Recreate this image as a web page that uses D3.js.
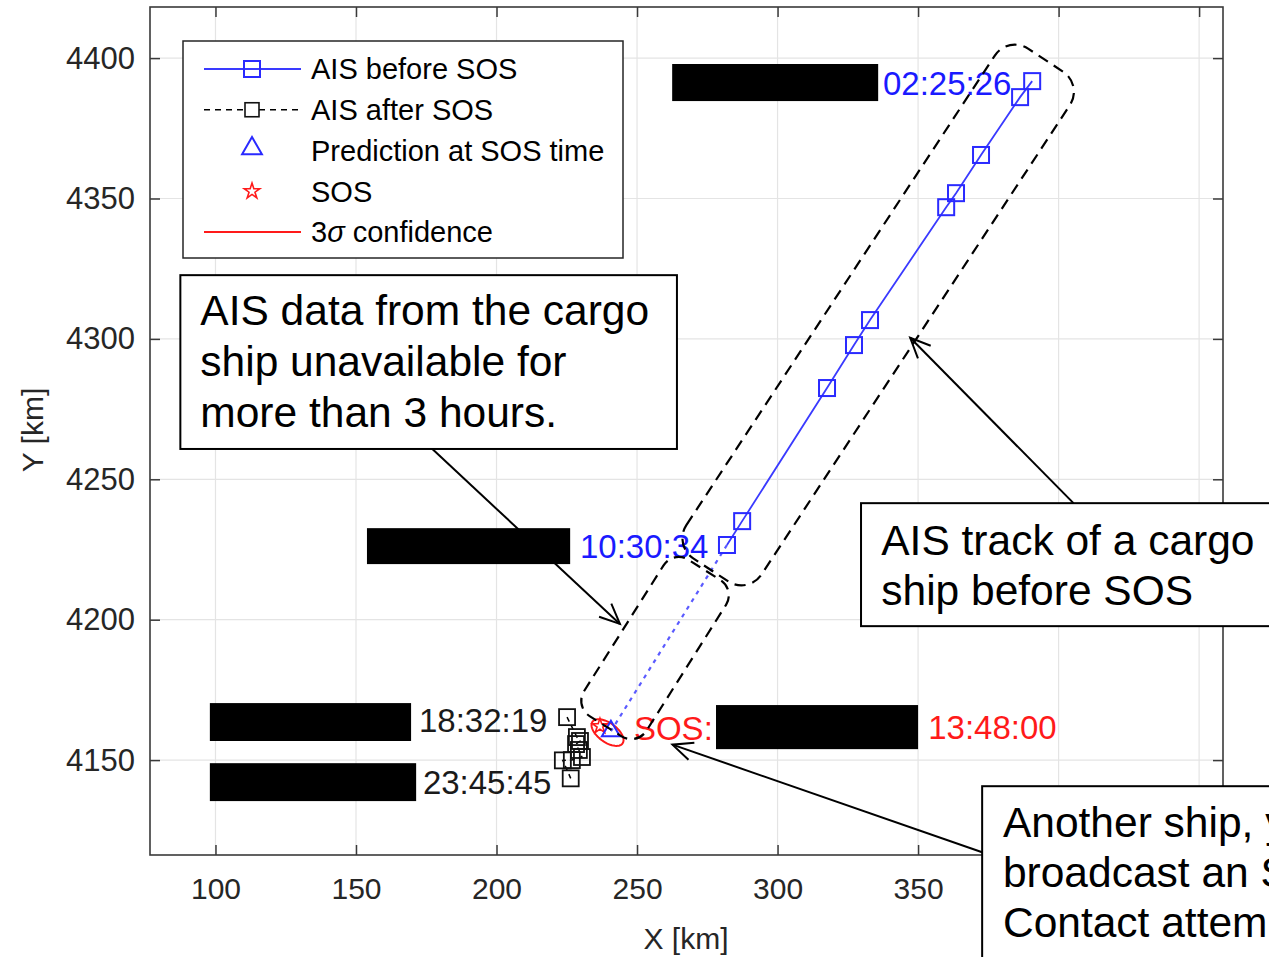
<!DOCTYPE html>
<html>
<head>
<meta charset="utf-8">
<script src="https://cdn.jsdelivr.net/npm/d3@7"></script>
<style>
  body { margin: 0; background: #fff; }
  svg { display: block; font-family: "Liberation Sans", Arial, Helvetica, sans-serif; }
</style>
</head>
<body>
<div id="viz"></div>
<script>
// ---- data (km) ----
var xTicks = [100, 150, 200, 250, 300, 350, 400, 450];
var yTicks = [4150, 4200, 4250, 4300, 4350, 4400];

// AIS before SOS (newest first)
var beforeX = [390.6, 386.3, 372.4, 363.5, 360.0, 332.9, 327.2, 317.6, 287.4, 282.0];
var beforeY = [4391.8, 4386.1, 4365.5, 4351.9, 4346.9, 4306.7, 4297.8, 4282.5, 4235.1, 4226.6];

// AIS after SOS
var afterX = [225.1, 228.6, 229.7, 228.3, 229.3, 230.4, 226.8, 223.6, 226.4];
var afterY = [4165.3, 4158.2, 4156.8, 4155.7, 4153.6, 4151.1, 4150.0, 4149.9, 4143.5];

// prediction at SOS time, SOS position, 3-sigma ellipse
var predX = [240.7], predY = [4160.3];
var sosX = [236.8], sosY = [4162.1];
var ellCenter = [239.5, 4159.8], ellAxes = [6.6, 3.4], ellAngle = -36;

// time stamps
var stampText = ["02:25:26", "10:30:34", "18:32:19", "23:45:45", "SOS:", "13:48:00"];
var stampKind = ["before", "before", "after", "after", "sos", "sos"];
var stampX = [337.5, 229.7, 172.4, 173.8, 248.9, 353.6];
var stampY = [4391.1, 4226.2, 4164.2, 4142.2, 4161.4, 4161.8];

// masked boxes [x0, x1, y0, y1]
var maskX0 = [262.5, 153.9, 98.0, 98.0, 278.1];
var maskX1 = [335.8, 226.2, 169.6, 171.4, 350.0];
var maskY0 = [4384.7, 4219.8, 4156.8, 4135.4, 4153.9];
var maskY1 = [4397.9, 4232.6, 4170.3, 4148.9, 4169.6];

var legendLabels = ["AIS before SOS", "AIS after SOS", "Prediction at SOS time", "SOS", "3σ confidence"];

// ---- layout ----
var W = 1269, H = 957;
var x = d3.scaleLinear().domain([76.7, 458.5]).range([150, 1223]);
var y = d3.scaleLinear().domain([4116.2, 4418.2]).range([855, 7]);
var kmPx = x(1) - x(0);

var colors = { before: "#1a1aff", after: "#1a1a1a", sos: "#ff1a1a" };
var axisColor = "#3a3a3a", tickText = "#262626";

// callouts (anchored in km)
var boxes = [
  { x0: 87.5, x1: 264.2, y0: 4322.7, y1: 4260.8, tx: 94.6, base: [4304.9, 4286.7, 4268.6],
    lines: [["AIS data from the cargo"], ["ship unavailable for"], ["more than 3 hours."]] },
  { x0: 329.7, x1: 500, y0: 4241.5, y1: 4197.7, tx: 336.9, base: [4223.0, 4205.2],
    lines: [["AIS track of a cargo"], ["ship before SOS"]] },
  { x0: 372.8, x1: 500, y0: 4140.7, y1: 4060, tx: 380.2, base: [4122.6, 4104.8, 4087.0],
    lines: [["Another ship, ", "yet unknown,"], ["broadcast an SOS."], ["Contact attempts failed."]] }
];
var arrows = [
  { from: [176.7, 4261.2], to: [243.9, 4198.5] },
  { from: [405.3, 4241.5], to: [347.2, 4300.4] },
  { from: [372.8, 4117.2], to: [262.6, 4155.5] }
];

var svg = d3.select("#viz").append("svg").attr("width", W).attr("height", H);

// grid
svg.append("g").selectAll("line").data(xTicks).enter().append("line")
  .attr("x1", d => x(d)).attr("x2", d => x(d)).attr("y1", y.range()[1]).attr("y2", y.range()[0])
  .attr("stroke", "#e4e4e4").attr("stroke-width", 1.2);
svg.append("g").selectAll("line").data(yTicks).enter().append("line")
  .attr("y1", d => y(d)).attr("y2", d => y(d)).attr("x1", x.range()[0]).attr("x2", x.range()[1])
  .attr("stroke", "#e4e4e4").attr("stroke-width", 1.2);

// axes with inward ticks
function styleAxis(g) {
  g.select(".domain").remove();
  g.selectAll(".tick line").attr("stroke", axisColor).attr("stroke-width", 1.5);
  g.selectAll(".tick text").attr("fill", tickText).style("font-size", "30px")
    .style("font-family", '"Liberation Sans", Arial, sans-serif');
}
// labels that sit under the lower-right callout are not shown
var hiddenFrom = boxes[2].x0;
svg.append("g").attr("transform", "translate(0," + y.range()[0] + ")")
  .call(d3.axisBottom(x).tickValues(xTicks)
    .tickFormat(d => d + 20 < hiddenFrom ? d3.format("d")(d) : "")
    .tickSize(-10).tickPadding(23)).call(styleAxis);
svg.append("g").attr("transform", "translate(" + x.range()[0] + ",0)")
  .call(d3.axisLeft(y).tickValues(yTicks).tickFormat(d3.format("d")).tickSize(-10).tickPadding(15))
  .call(styleAxis)
  .call(g => g.selectAll(".tick text").style("font-size", "31px"));
svg.append("g").attr("transform", "translate(0," + y.range()[1] + ")")
  .call(d3.axisTop(x).tickValues(xTicks).tickSize(-10).tickFormat("")).call(styleAxis);
svg.append("g").attr("transform", "translate(" + x.range()[1] + ",0)")
  .call(d3.axisRight(y).tickValues(yTicks).tickSize(-10).tickFormat("")).call(styleAxis);

svg.append("rect")
  .attr("x", x.range()[0]).attr("y", y.range()[1])
  .attr("width", x.range()[1] - x.range()[0]).attr("height", y.range()[0] - y.range()[1])
  .attr("fill", "none").attr("stroke", axisColor).attr("stroke-width", 1.6);

svg.append("text").attr("x", 686).attr("y", 949)
  .attr("text-anchor", "middle").attr("fill", tickText).style("font-size", "30px").text("X [km]");
svg.append("text").attr("transform", "translate(43,430) rotate(-90)")
  .attr("text-anchor", "middle").attr("fill", tickText).style("font-size", "30px").text("Y [km]");

// ---- plotted data ----
var plot = svg.append("g");
var before = beforeX.map((v, i) => [v, beforeY[i]]);
var after = afterX.map((v, i) => [v, afterY[i]]);
var line = d3.line().x(d => x(d[0])).y(d => y(d[1]));

// masks
plot.selectAll(".mask").data(maskX0).enter().append("rect").attr("class", "mask")
  .attr("x", (d, i) => x(maskX0[i])).attr("y", (d, i) => y(maskY1[i]))
  .attr("width", (d, i) => x(maskX1[i]) - x(maskX0[i]))
  .attr("height", (d, i) => y(maskY0[i]) - y(maskY1[i]))
  .attr("fill", "#000");

// prediction path (dotted)
plot.append("path").datum([before[before.length - 1], [predX[0], predY[0]]])
  .attr("d", line).attr("fill", "none").attr("stroke", "#5a5aff")
  .attr("stroke-width", 2.2).attr("stroke-dasharray", "4,5");

plot.append("path").datum(before).attr("d", line).attr("fill", "none")
  .attr("stroke", "#3a3aff").attr("stroke-width", 1.8);
plot.selectAll(".bsq").data(before).enter().append("rect").attr("class", "bsq")
  .attr("x", d => x(d[0]) - 8).attr("y", d => y(d[1]) - 8).attr("width", 16).attr("height", 16)
  .attr("fill", "none").attr("stroke", "#2a2aff").attr("stroke-width", 2);

plot.append("path").datum(after).attr("d", line).attr("fill", "none")
  .attr("stroke", "#000").attr("stroke-width", 1.5).attr("stroke-dasharray", "5,4");
plot.selectAll(".asq").data(after).enter().append("rect").attr("class", "asq")
  .attr("x", d => x(d[0]) - 8).attr("y", d => y(d[1]) - 8).attr("width", 16).attr("height", 16)
  .attr("fill", "none").attr("stroke", "#111").attr("stroke-width", 1.8);

// 3-sigma ellipse
var th = ellAngle * Math.PI / 180;
var ell = d3.range(0, 361, 6).map(function(t) {
  var a = t * Math.PI / 180;
  var dx = ellAxes[0] * Math.cos(a), dy = ellAxes[1] * Math.sin(a);
  return [ellCenter[0] + dx * Math.cos(th) - dy * Math.sin(th),
          ellCenter[1] + dx * Math.sin(th) + dy * Math.cos(th)];
});
plot.append("path").datum(ell).attr("d", line).attr("fill", "none")
  .attr("stroke", "#ff1a1a").attr("stroke-width", 2);

plot.selectAll(".sos").data(sosX).enter().append("path")
  .attr("transform", (d, i) => "translate(" + x(d) + "," + y(sosY[i]) + ")")
  .attr("d", d3.symbol().type(d3.symbolStar).size(70)())
  .attr("fill", "none").attr("stroke", "#ff1a1a").attr("stroke-width", 1.6);

plot.selectAll(".pred").data(predX).enter().append("path")
  .attr("transform", (d, i) => "translate(" + x(d) + "," + y(predY[i]) + ")")
  .attr("d", d3.symbol().type(d3.symbolTriangle).size(140)())
  .attr("fill", "none").attr("stroke", "#2a2aff").attr("stroke-width", 2);

// time stamps
plot.selectAll(".stamp").data(stampText).enter().append("text")
  .attr("x", (d, i) => x(stampX[i])).attr("y", (d, i) => y(stampY[i]))
  .attr("dy", "0.36em").attr("fill", (d, i) => colors[stampKind[i]])
  .style("font-size", "33px").text(d => d);

// ---- dashed regions ----
var regions = [
  { cx: 335.8, cy: 4308.5, len: 217, wid: 32, ang: 56.7, r: 24 },
  { cx: 256.4, cy: 4189.9, len: 65.8, wid: 26.3, ang: 57.7, r: 18 }
];
svg.selectAll(".region").data(regions).enter().append("rect").attr("class", "region")
  .attr("transform", d => "translate(" + x(d.cx) + "," + y(d.cy) + ") rotate(" + (-d.ang) + ")")
  .attr("x", d => -d.len * kmPx / 2).attr("y", d => -d.wid * kmPx / 2)
  .attr("width", d => d.len * kmPx).attr("height", d => d.wid * kmPx)
  .attr("rx", d => d.r).attr("ry", d => d.r)
  .attr("fill", "none").attr("stroke", "#000").attr("stroke-width", 2.2)
  .attr("stroke-dasharray", "11,7");

// ---- legend ----
var lg = svg.append("g");
lg.append("rect").attr("x", 183).attr("y", 41).attr("width", 440).attr("height", 217)
  .attr("fill", "#fff").attr("stroke", "#262626").attr("stroke-width", 1.5);
var rowY = d3.scalePoint().domain(legendLabels).range([69, 232]);
lg.selectAll(".lt").data(legendLabels).enter().append("text")
  .attr("x", 311).attr("y", d => rowY(d)).attr("dy", "0.36em").attr("fill", "#000")
  .style("font-size", "29px")
  .each(function(d) {
    var t = d3.select(this);
    if (d.indexOf("σ") >= 0) {
      t.append("tspan").text("3");
      t.append("tspan").style("font-style", "italic").text("σ");
      t.append("tspan").text(" confidence");
    } else t.text(d);
  });
var r0 = rowY(legendLabels[0]), r1 = rowY(legendLabels[1]), r2 = rowY(legendLabels[2]),
    r3 = rowY(legendLabels[3]), r4 = rowY(legendLabels[4]);
lg.append("line").attr("x1", 204).attr("x2", 301).attr("y1", r0).attr("y2", r0)
  .attr("stroke", "#3a3aff").attr("stroke-width", 1.8);
lg.append("rect").attr("x", 244).attr("y", r0 - 8).attr("width", 16).attr("height", 16)
  .attr("fill", "none").attr("stroke", "#2a2aff").attr("stroke-width", 2);
lg.append("line").attr("x1", 204).attr("x2", 301).attr("y1", r1).attr("y2", r1)
  .attr("stroke", "#000").attr("stroke-width", 1.5).attr("stroke-dasharray", "6,5");
lg.append("rect").attr("x", 245).attr("y", r1 - 7).attr("width", 14).attr("height", 14)
  .attr("fill", "#fff").attr("stroke", "#111").attr("stroke-width", 1.6);
lg.append("path").attr("transform", "translate(252," + (r2 - 2) + ")")
  .attr("d", d3.symbol().type(d3.symbolTriangle).size(170)())
  .attr("fill", "none").attr("stroke", "#2a2aff").attr("stroke-width", 2);
lg.append("path").attr("transform", "translate(252," + r3 + ")")
  .attr("d", d3.symbol().type(d3.symbolStar).size(75)())
  .attr("fill", "none").attr("stroke", "#ff1a1a").attr("stroke-width", 1.6);
lg.append("line").attr("x1", 204).attr("x2", 301).attr("y1", r4).attr("y2", r4)
  .attr("stroke", "#ff1a1a").attr("stroke-width", 1.8);

// ---- arrows and callout boxes ----
arrows.forEach(function(a) {
  var x1 = x(a.from[0]), y1 = y(a.from[1]), x2 = x(a.to[0]), y2 = y(a.to[1]);
  var ang = Math.atan2(y1 - y2, x1 - x2), L = 22, sp = 0.42;
  svg.append("line").attr("x1", x1).attr("y1", y1).attr("x2", x2).attr("y2", y2)
    .attr("stroke", "#000").attr("stroke-width", 2);
  svg.append("path")
    .attr("d", "M" + (x2 + L * Math.cos(ang + sp)) + "," + (y2 + L * Math.sin(ang + sp)) +
      "L" + x2 + "," + y2 +
      "L" + (x2 + L * Math.cos(ang - sp)) + "," + (y2 + L * Math.sin(ang - sp)))
    .attr("fill", "none").attr("stroke", "#000").attr("stroke-width", 2);
});

boxes.forEach(function(b) {
  svg.append("rect").attr("x", x(b.x0)).attr("y", y(b.y0))
    .attr("width", x(b.x1) - x(b.x0)).attr("height", y(b.y1) - y(b.y0))
    .attr("fill", "#fff").attr("stroke", "#000").attr("stroke-width", 2);
  b.lines.forEach(function(parts, i) {
    var t = svg.append("text").attr("x", x(b.tx)).attr("y", y(b.base[i]))
      .attr("fill", "#000").style("font-size", "42.5px")
      .style("font-family", '"Liberation Sans", Arial, sans-serif');
    parts.forEach(function(p, j) {
      var s = t.append("tspan").text(p);
      if (j > 0) s.style("text-decoration", "underline");
    });
  });
});
</script>
</body>
</html>
